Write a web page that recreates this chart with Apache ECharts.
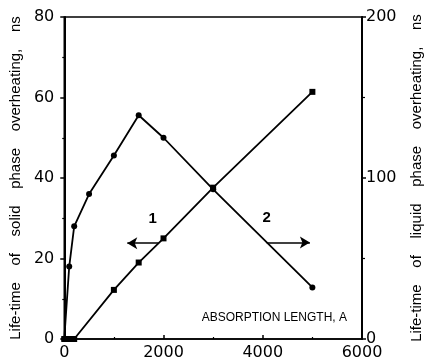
<!DOCTYPE html>
<html>
<head>
<meta charset="utf-8">
<script src="https://cdn.jsdelivr.net/npm/echarts@6/dist/echarts.min.js"></script>
<style>html,body{margin:0;padding:0;background:#fff;}#c{width:433px;height:363px;}</style>
</head>
<body>
<div id="c"></div>
<script>
// Series 1: solid phase (left axis, ns), square markers
const solidX = [0, 100, 200, 1000, 1500, 2000, 3000, 5000];
const solidY = [0, 0, 0, 12.2, 19, 25, 37.6, 61.4];
// Series 2: liquid phase (right axis, ns), circle markers
const liquidX = [0, 100, 200, 500, 1000, 1500, 2000, 3000, 5000];
const liquidY = [0, 45, 70, 90, 114, 139, 125, 93, 32];
// Axis ticks
const xTicks = [0, 2000, 4000, 6000];
const leftTicks = [0, 20, 40, 60, 80];
const rightTicks = [0, 100, 200];
// Annotation arrows (data coordinates)
const arrow1 = {from: [1900, 23.8], to: [1270, 23.8], label: '1', labelAt: [1780, 29.8]};
const arrow2 = {from: [4080, 60], to: [4950, 60], label: '2', labelAt: [4080, 75]};

const fontTick = 'DejaVu Sans';
const chart = echarts.init(document.getElementById('c'), null, {renderer: 'canvas'});
const pair = (xs, ys) => xs.map((x, i) => [x, ys[i]]);

chart.setOption({
  animation: false,
  backgroundColor: '#fff',
  grid: {left: 64, top: 17, right: 71, bottom: 24, show: true, borderColor: '#000', borderWidth: 1.5, backgroundColor: 'transparent'},
  xAxis: {
    type: 'value', min: xTicks[0], max: xTicks[xTicks.length - 1], interval: 2000,
    axisLine: {show: true, lineStyle: {color: '#000', width: 1.5}},
    axisTick: {show: true, inside: true, length: 4, lineStyle: {color: '#000', width: 1.5}},
    minorTick: {show: true, splitNumber: 2, length: 2, lineStyle: {color: '#000', width: 1.2}},
    splitLine: {show: false},
    axisLabel: {color: '#000', fontFamily: fontTick, fontSize: 16, margin: 6, formatter: v => String(v)}
  },
  yAxis: [{
    type: 'value', min: leftTicks[0], max: leftTicks[leftTicks.length - 1], interval: 20, position: 'left',
    name: 'Life-time    of    solid    phase    overheating,    ns', nameLocation: 'middle', nameGap: 41, nameRotate: 90,
    nameTextStyle: {color: '#000', fontFamily: 'Liberation Sans', fontSize: 15},
    axisLine: {show: true, lineStyle: {color: '#000', width: 2}},
    axisTick: {show: true, inside: false, length: 4, lineStyle: {color: '#000', width: 1.5}},
    minorTick: {show: true, splitNumber: 2, length: 2, lineStyle: {color: '#000', width: 1.2}},
    splitLine: {show: false},
    axisLabel: {color: '#000', fontFamily: fontTick, fontSize: 16, margin: 10}
  }, {
    type: 'value', min: rightTicks[0], max: rightTicks[rightTicks.length - 1], interval: 100, position: 'right',
    name: 'Life-time    of    liquid    phase    overheating,    ns', nameLocation: 'middle', nameGap: 47, nameRotate: 90,
    nameTextStyle: {color: '#000', fontFamily: 'Liberation Sans', fontSize: 15},
    axisLine: {show: true, lineStyle: {color: '#000', width: 2}},
    axisTick: {show: true, inside: false, length: 4, lineStyle: {color: '#000', width: 1.5}},
    minorTick: {show: true, splitNumber: 2, length: 3, lineStyle: {color: '#000', width: 1.2}},
    splitLine: {show: false},
    axisLabel: {color: '#000', fontFamily: fontTick, fontSize: 16, margin: 4}
  }],
  series: [{
    type: 'line', yAxisIndex: 0, data: pair(solidX, solidY),
    symbol: 'rect', symbolSize: 6, showAllSymbol: true,
    lineStyle: {color: '#000', width: 1.8}, itemStyle: {color: '#000'},
    markLine: {
      silent: true, symbolSize: [9, 10],
      lineStyle: {color: '#000', width: 1.5, type: 'solid'}, label: {show: false},
      data: [[{coord: arrow1.from, symbol: 'none'}, {coord: arrow1.to, symbol: 'arrow'}]]
    },
    markPoint: {
      symbol: 'circle', symbolSize: 0, silent: true,
      label: {show: true, color: '#000', fontFamily: 'Liberation Sans', fontWeight: 'bold', fontSize: 15, formatter: arrow1.label},
      data: [{coord: arrow1.labelAt}]
    }
  }, {
    type: 'line', yAxisIndex: 1, data: pair(liquidX, liquidY),
    symbol: 'circle', symbolSize: 6, showAllSymbol: true,
    lineStyle: {color: '#000', width: 1.8}, itemStyle: {color: '#000'},
    markLine: {
      silent: true, symbolSize: [9, 10],
      lineStyle: {color: '#000', width: 1.5, type: 'solid'}, label: {show: false},
      data: [[{coord: arrow2.from, symbol: 'none'}, {coord: arrow2.to, symbol: 'arrow'}]]
    },
    markPoint: {
      symbol: 'circle', symbolSize: 0, silent: true,
      label: {show: true, color: '#000', fontFamily: 'Liberation Sans', fontWeight: 'bold', fontSize: 15, formatter: arrow2.label},
      data: [{coord: arrow2.labelAt}]
    }
  }],
  graphic: [{
    type: 'text', right: 86, top: 312,
    style: {text: 'ABSORPTION LENGTH, A', fill: '#000', font: '12px "Liberation Sans"'}
  }]
});
</script>
</body>
</html>
